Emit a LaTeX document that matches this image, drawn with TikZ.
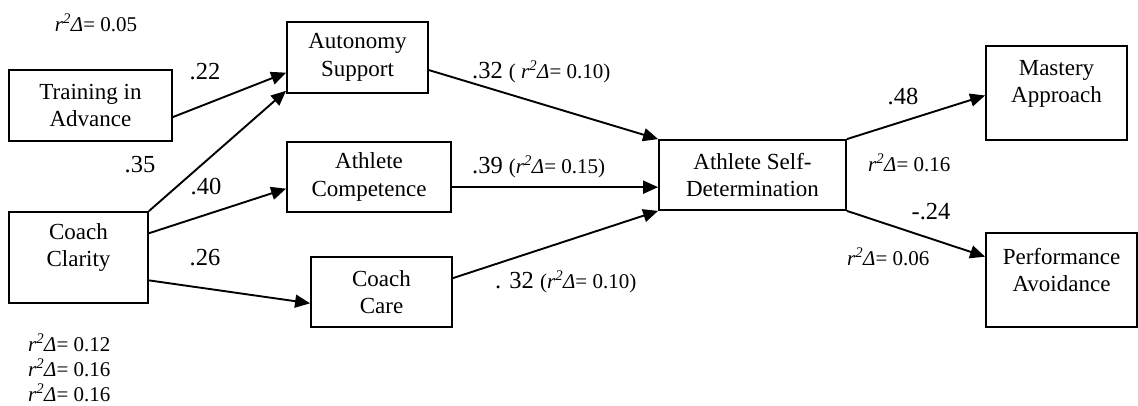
\documentclass[tikz,border=0pt]{standalone}
\usepackage{fontspec}
\setmainfont{Liberation Serif}
\usepackage{tikz}
\usetikzlibrary{arrows.meta}
\newcommand{\rdelta}[1]{{\itshape r\textsuperscript{2}Δ}= #1}

\begin{document}
\begin{tikzpicture}[x=1pt, y=-1pt,
  box/.style={draw, line width=1.8pt, align=center, inner sep=0pt, font=\fontsize{23}{27.5}\selectfont},
  link/.style={line width=1.9pt, -{Triangle[length=15pt, width=13pt]}},
  coef/.style={font=\fontsize{24.5}{28}\selectfont, inner sep=0pt},
  note/.style={font=\fontsize{21}{25}\selectfont, inner sep=0pt}]
  \useasboundingbox (0,0) rectangle (1138,406);
  % variables
  \node[box, minimum width=163pt, minimum height=71pt] (train) at (90.5,105.5) {Training in\\Advance};
  \node[box, minimum width=139pt, minimum height=91pt, text depth=25pt] (clar) at (78.5,257.5) {Coach\\Clarity};
  \node[box, minimum width=141pt, minimum height=71pt] (auto) at (357.5,57.5) {Autonomy\\Support};
  \node[box, minimum width=164pt, minimum height=70pt] (comp) at (369,177) {Athlete\\Competence};
  \node[box, minimum width=141pt, minimum height=70pt] (care) at (381.5,292) {Coach\\Care};
  \node[box, minimum width=187pt, minimum height=70pt] (asd) at (752.5,175) {Athlete Self-\\Determination};
  \node[box, minimum width=141pt, minimum height=94pt, text depth=23pt] (mast) at (1056.5,93) {Mastery\\Approach};
  \node[box, minimum width=151pt, minimum height=94pt, text depth=20pt] (perf) at (1061.5,280) {Performance\\Avoidance};
  % paths
  \draw[link] (train.-8) -- (auto.192);
  \draw[link] (clar.north east) -- (auto.205);
  \draw[link] (clar.19) -- (comp.188);
  \draw[link] (clar.-18) -- (care.189);
  \draw[link] (auto.-10) -- (asd.north west);
  \draw[link] (comp.-7) -- (comp.-7 -| asd.west);
  \draw[link] (care.11) -- (asd.south west);
  \draw[link] (asd.north east) -- (mast.182);
  \draw[link] (asd.south east) -- (perf.163);
  % coefficients
  \node[note] (rauto) at (96,23) {\rdelta{0.05}};
  \node[coef] (ctrain) at (205,72) {.22};
  \node[coef] (cclauto) at (140,165) {.35};
  \node[coef] (cclcomp) at (206,187) {.40};
  \node[coef] (cclcare) at (205,258) {.26};
  \node[note, anchor=west, align=left] (rmed) at (28,368) {\rdelta{0.12}\\\rdelta{0.16}\\\rdelta{0.16}};
  \node[coef, anchor=west] (cauto) at (472,72) {.32 {\fontsize{21}{25}\selectfont( \rdelta{0.10})}};
  \node[coef, anchor=west] (ccomp) at (472,167) {.39 {\fontsize{21}{25}\selectfont(\rdelta{0.15})}};
  \node[coef, anchor=west] (ccare) at (495,282) {. 32 {\fontsize{21}{25}\selectfont(\rdelta{0.10})}};
  \node[coef] (cmast) at (903,97) {.48};
  \node[note, anchor=west] (rmast) at (868,163) {\rdelta{0.16}};
  \node[coef] (cperf) at (931,212) {-.24};
  \node[note, anchor=west] (rperf) at (847,257) {\rdelta{0.06}};
\end{tikzpicture}
\end{document}
